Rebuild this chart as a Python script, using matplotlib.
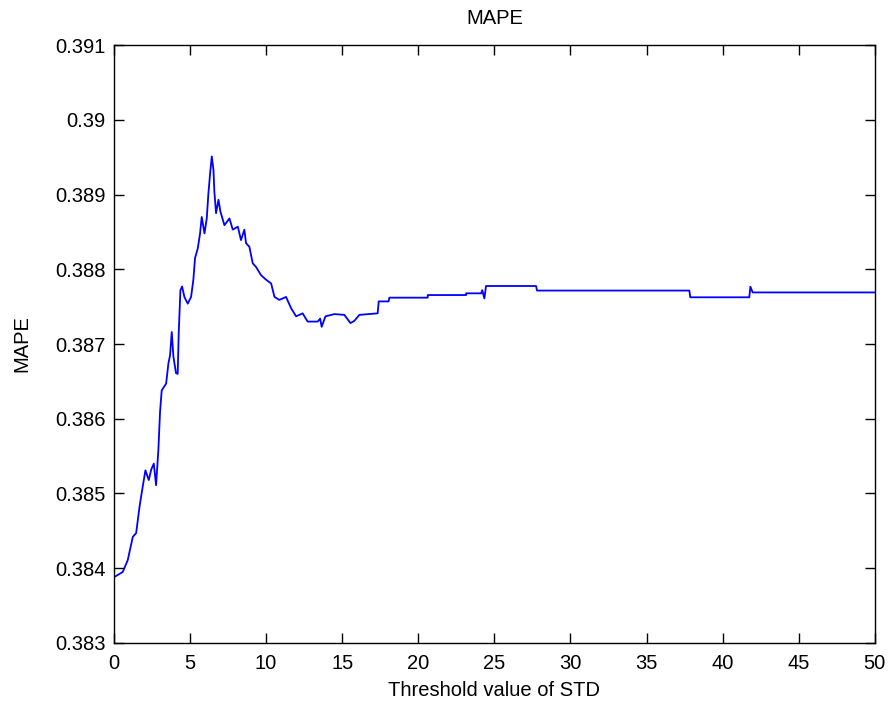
import matplotlib
matplotlib.use("Agg")
import matplotlib.pyplot as plt

# threshold value of STD vs MAPE
std_threshold = [0.0, 0.58, 0.91, 1.24, 1.46, 1.68, 1.89, 2.07, 2.29, 2.45, 2.62, 2.77,
                 2.92, 3.03, 3.14, 3.43, 3.58, 3.69, 3.80, 3.91, 4.08, 4.19, 4.26, 4.37, 4.48,
                 4.63, 4.85, 5.07, 5.22, 5.33, 5.51, 5.66, 5.77, 5.95, 6.10, 6.21, 6.32, 6.43,
                 6.54, 6.60, 6.71, 6.87, 7.00, 7.26, 7.59, 7.81, 8.14, 8.35, 8.57, 8.68, 8.90,
                 9.12, 9.34, 9.67, 10.00, 10.33, 10.55, 10.87, 11.31, 11.64, 11.97, 12.40,
                 12.73, 13.39, 13.55, 13.65, 13.90, 14.49, 15.14, 15.54, 15.80, 16.13, 17.33,
                 17.40, 18.05, 18.10, 20.62, 20.62, 23.14, 23.14, 24.13, 24.20, 24.34, 24.45,
                 27.74, 27.80, 37.81, 37.87, 41.75, 41.82, 41.97, 50.0]
mape = [0.38388, 0.38395, 0.38411, 0.38442, 0.38447, 0.38482, 0.38509, 0.38531,
        0.38518, 0.38532, 0.38540, 0.38511, 0.38558, 0.38609, 0.38638, 0.38647, 0.38674,
        0.38685, 0.38716, 0.38683, 0.38661, 0.38660, 0.38716, 0.38772, 0.38777, 0.38763,
        0.38754, 0.38763, 0.38786, 0.38815, 0.38828, 0.38848, 0.38870, 0.38848, 0.38868,
        0.38902, 0.38928, 0.38951, 0.38933, 0.38904, 0.38875, 0.38893, 0.38877, 0.38859,
        0.38868, 0.38853, 0.38857, 0.38839, 0.38853, 0.38835, 0.38830, 0.38808, 0.38803,
        0.38792, 0.38786, 0.38781, 0.38763, 0.38759, 0.38763, 0.38748, 0.38737, 0.38741,
        0.38730, 0.38730, 0.38734, 0.38723, 0.38737, 0.38740, 0.38739, 0.38728, 0.38731,
        0.38739, 0.38741, 0.38757, 0.38757, 0.38762, 0.38762, 0.387655, 0.387655,
        0.387678, 0.387678, 0.38772, 0.38761, 0.387776, 0.387776, 0.387715, 0.387715,
        0.387625, 0.387625, 0.387767, 0.38769, 0.38769]

x_ticks = list(range(0, 51, 5))
y_ticks = [0.383, 0.384, 0.385, 0.386, 0.387, 0.388, 0.389, 0.39, 0.391]
y_tick_labels = ["0.383", "0.384", "0.385", "0.386", "0.387", "0.388", "0.389", "0.39", "0.391"]

plt.rcParams['font.family'] = ['Liberation Sans', 'DejaVu Sans']

fig = plt.figure(figsize=(8.9, 7.09), dpi=100)
ax = fig.add_axes([0.128, 0.0931, 0.855, 0.8434])
ax.plot(std_threshold, mape, color=(0, 0, 1), linewidth=1.3)

ax.set_xlim(0, 50)
ax.set_ylim(0.383, 0.391)
ax.set_xticks(x_ticks)
ax.set_yticks(y_ticks)
ax.set_yticklabels(y_tick_labels)
ax.tick_params(direction='in', length=7, width=1, top=True, right=True, labelsize=14.5)
ax.tick_params(axis='x', pad=8)
ax.tick_params(axis='y', pad=6)
for s in ax.spines.values():
    s.set_linewidth(1)

ax.set_title("MAPE", fontsize=14.5, pad=15)
ax.set_xlabel("Threshold value of STD", fontsize=14.5, labelpad=6)
ax.set_ylabel("MAPE", fontsize=14.5, labelpad=17)

fig.savefig("out.png", dpi=100)
